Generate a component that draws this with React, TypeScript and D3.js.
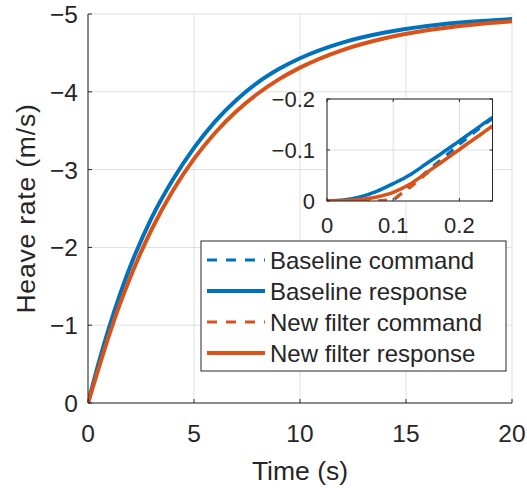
import React from 'react';
import * as d3 from 'd3';

// main plot: time (s) and heave rate (m/s, negative = up)
const timeMain = [0, 0.5, 1, 1.5, 2, 3, 4, 5, 6, 7, 8, 9, 10, 12, 14, 16, 18, 20];
const baselineResp = [0, -0.515, -0.977, -1.39, -1.76, -2.38, -2.87, -3.28, -3.62, -3.895, -4.118, -4.292, -4.431, -4.632, -4.762, -4.846, -4.9, -4.935];
const newResp = [0, -0.446, -0.877, -1.267, -1.62, -2.23, -2.729, -3.138, -3.474, -3.75, -3.975, -4.16, -4.311, -4.537, -4.689, -4.791, -4.86, -4.906];

// inset: first quarter second
const timeInset = [0, 0.025, 0.05, 0.075, 0.1, 0.125, 0.15, 0.175, 0.2, 0.225, 0.25];
const baselineCmdInset = [0, 0, 0, 0, -0.001, -0.029, -0.057, -0.084, -0.111, -0.137, -0.162];
const baselineRespInset = [0, -0.002, -0.008, -0.019, -0.034, -0.051, -0.073, -0.095, -0.118, -0.141, -0.164];
const newCmdInset = [0, 0, 0, 0, -0.003, -0.026, -0.053, -0.079, -0.102, -0.124, -0.146];
const newRespInset = [0, -0.0005, -0.003, -0.008, -0.017, -0.033, -0.055, -0.078, -0.101, -0.124, -0.147];

const xTicksMain = [0, 5, 10, 15, 20];
const yTicksMain = [0, -1, -2, -3, -4, -5];
const xTicksInset = [0, 0.1, 0.2];
const yTicksInset = [0, -0.1, -0.2];

const legendItems = [
  { label: 'Baseline command', color: '#0072BD', dashed: true },
  { label: 'Baseline response', color: '#0072BD', dashed: false },
  { label: 'New filter command', color: '#D95319', dashed: true },
  { label: 'New filter response', color: '#D95319', dashed: false },
];

const BLUE = '#0072BD';
const ORANGE = '#D95319';
const AXIS = '#262626';
const GRID = '#dfdfdf';
const FONT = '"Liberation Sans", Arial, Helvetica, sans-serif';

const minus = (v: number) => (v < 0 ? '\u2212' + String(-v) : String(v));

export default function App() {
  const W = 527;
  const H = 488;

  // main axes box
  const m = { left: 88, right: 512, top: 14, bottom: 403 };
  const x = d3.scaleLinear().domain([0, 20]).range([m.left, m.right]);
  const y = d3.scaleLinear().domain([0, -5]).range([m.bottom, m.top]);

  // inset axes box
  const ins = { left: 327, right: 492.5, top: 99, bottom: 201 };
  const xi = d3.scaleLinear().domain([0, 0.25]).range([ins.left, ins.right]);
  const yi = d3.scaleLinear().domain([0, -0.2]).range([ins.bottom, ins.top]);

  const lineMain = d3.line<number>()
    .x((_, i) => x(timeMain[i]))
    .y(d => y(d))
    .curve(d3.curveMonotoneX);
  const lineInset = d3.line<number>()
    .x((_, i) => xi(timeInset[i]))
    .y(d => yi(d))
    .curve(d3.curveMonotoneX);
  const lineInsetCmd = d3.line<number>()
    .x((_, i) => xi(timeInset[i]))
    .y(d => yi(d));

  const tickLen = 4;

  return (
    <svg width={W} height={H} style={{ position: 'absolute', left: 0, top: 0, background: '#fff' }} fontFamily={FONT}>
      <defs>
        <clipPath id="clipMain">
          <rect x={m.left} y={m.top - 2} width={m.right - m.left + 2} height={m.bottom - m.top + 2} />
        </clipPath>
        <clipPath id="clipInset">
          <rect x={ins.left} y={ins.top} width={ins.right - ins.left} height={ins.bottom - ins.top} />
        </clipPath>
      </defs>

      {/* main grid */}
      {xTicksMain.map(t => (
        <line key={'gx' + t} x1={x(t)} x2={x(t)} y1={m.top} y2={m.bottom} stroke={GRID} strokeWidth={1} />
      ))}
      {yTicksMain.map(t => (
        <line key={'gy' + t} x1={m.left} x2={m.right} y1={y(t)} y2={y(t)} stroke={GRID} strokeWidth={1} />
      ))}

      {/* main curves */}
      <g clipPath="url(#clipMain)" fill="none" strokeLinejoin="round">
        <path d={lineMain(baselineResp) || ''} stroke={BLUE} strokeWidth={4} />
        <path d={lineMain(newResp) || ''} stroke={ORANGE} strokeWidth={4} />
      </g>

      {/* main axes */}
      <line x1={m.left} x2={m.left} y1={m.top} y2={m.bottom} stroke={AXIS} strokeWidth={1} />
      <line x1={m.left} x2={m.right} y1={m.bottom} y2={m.bottom} stroke={AXIS} strokeWidth={1} />
      {xTicksMain.map(t => (
        <g key={'tx' + t}>
          <line x1={x(t)} x2={x(t)} y1={m.bottom} y2={m.bottom - tickLen} stroke={AXIS} />
          <text x={x(t)} y={442} textAnchor="middle" fontSize={24.5} fill={AXIS}>{minus(t)}</text>
        </g>
      ))}
      {yTicksMain.map(t => (
        <g key={'ty' + t}>
          <line x1={m.left} x2={m.left + tickLen} y1={y(t)} y2={y(t)} stroke={AXIS} />
          <text x={78} y={y(t) + 9} textAnchor="end" fontSize={24.5} fill={AXIS}>{minus(t)}</text>
        </g>
      ))}
      <text x={(m.left + m.right) / 2} y={480} textAnchor="middle" fontSize={26.5} fill={AXIS}>Time (s)</text>
      <text transform={`translate(35,${(m.top + m.bottom) / 2}) rotate(-90)`} textAnchor="middle" fontSize={26.5} letterSpacing={0.8} fill={AXIS}>Heave rate (m/s)</text>

      {/* inset */}
      <rect x={ins.left} y={ins.top} width={ins.right - ins.left} height={ins.bottom - ins.top} fill="#fff" />
      {xTicksInset.map(t => (
        <line key={'igx' + t} x1={xi(t)} x2={xi(t)} y1={ins.top} y2={ins.bottom} stroke={GRID} />
      ))}
      {yTicksInset.map(t => (
        <line key={'igy' + t} x1={ins.left} x2={ins.right} y1={yi(t)} y2={yi(t)} stroke={GRID} />
      ))}
      <g clipPath="url(#clipInset)" fill="none" strokeLinejoin="round">
        <path d={lineInsetCmd(baselineCmdInset) || ''} stroke={BLUE} strokeWidth={3} strokeDasharray="9,8" />
        <path d={lineInset(baselineRespInset) || ''} stroke={BLUE} strokeWidth={3.5} />
        <path d={lineInsetCmd(newCmdInset) || ''} stroke={ORANGE} strokeWidth={3} strokeDasharray="9,8" />
        <path d={lineInset(newRespInset) || ''} stroke={ORANGE} strokeWidth={3.5} />
      </g>
      <rect x={ins.left} y={ins.top} width={ins.right - ins.left} height={ins.bottom - ins.top} fill="none" stroke={AXIS} strokeWidth={1} />
      {xTicksInset.map(t => (
        <g key={'itx' + t}>
          <line x1={xi(t)} x2={xi(t)} y1={ins.bottom} y2={ins.bottom - 3} stroke={AXIS} />
          <line x1={xi(t)} x2={xi(t)} y1={ins.top} y2={ins.top + 3} stroke={AXIS} />
          <text x={xi(t)} y={233} textAnchor="middle" fontSize={22} fill={AXIS}>{minus(t)}</text>
        </g>
      ))}
      {yTicksInset.map(t => (
        <g key={'ity' + t}>
          <line x1={ins.left} x2={ins.left + 3} y1={yi(t)} y2={yi(t)} stroke={AXIS} />
          <line x1={ins.right} x2={ins.right - 3} y1={yi(t)} y2={yi(t)} stroke={AXIS} />
          <text x={315} y={yi(t) + 8} textAnchor="end" fontSize={22} fill={AXIS}>{minus(t)}</text>
        </g>
      ))}

      {/* legend */}
      <rect x={201} y={241} width={305} height={130} fill="#fff" stroke={AXIS} strokeWidth={1} />
      {legendItems.map((d, i) => {
        const cy = 260 + i * 31;
        return (
          <g key={d.label}>
            <line x1={207} x2={265} y1={cy} y2={cy} stroke={d.color} strokeWidth={d.dashed ? 3 : 4}
              strokeDasharray={d.dashed ? '10,9' : undefined} />
            <text x={270} y={cy + 8.5} fontSize={24} fill={AXIS}>{d.label}</text>
          </g>
        );
      })}
    </svg>
  );
}
